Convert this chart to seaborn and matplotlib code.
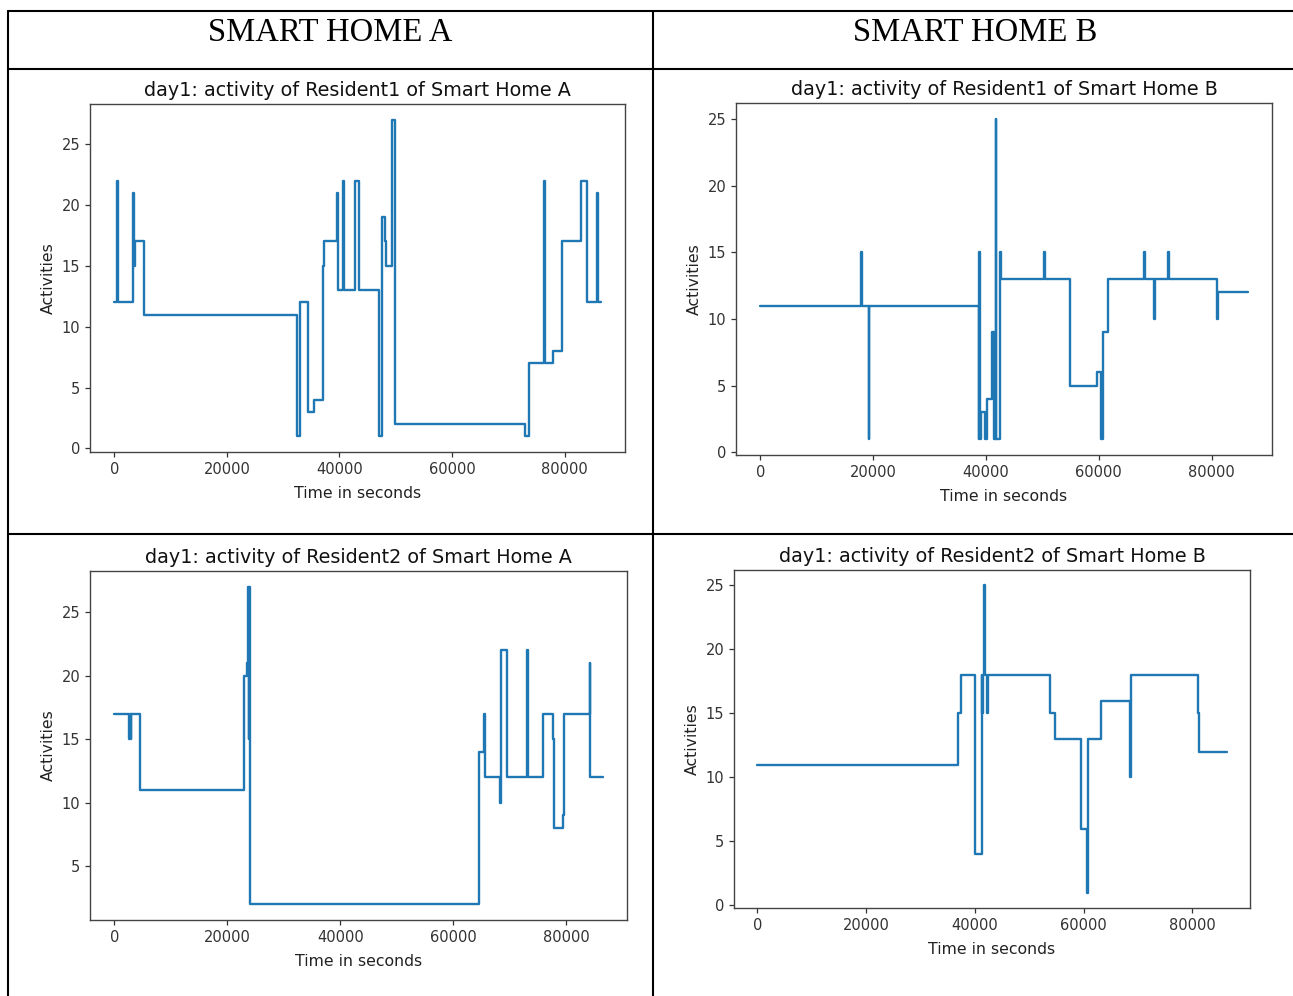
import matplotlib
matplotlib.use("Agg")
import matplotlib.pyplot as plt
import seaborn as sns
import pandas as pd
from matplotlib.lines import Line2D

sns.set_style("ticks")
plt.rcParams['font.family'] = ['DejaVu Sans']
plt.rcParams['axes.linewidth'] = 1.0
plt.rcParams['axes.edgecolor'] = '#444444'

# ---------------- data (change points, step values) ----------------
header_labels = ["SMART HOME A", "SMART HOME B"]
titles = ["day1: activity of Resident1 of Smart Home A",
          "day1: activity of Resident1 of Smart Home B",
          "day1: activity of Resident2 of Smart Home A",
          "day1: activity of Resident2 of Smart Home B"]

a1_time = [0, 450, 650, 3250, 3450, 3600, 5340, 32450, 32900, 34350, 35400, 37100,
           37300, 39500, 39800, 40550, 40750, 42750, 43450, 47100, 47500, 48000,
           48300, 49400, 49800, 73000, 73750, 76300, 76500, 77900, 79550, 82950,
           83950, 85800, 85950, 86400]
a1_act = [12, 22, 12, 21, 15, 17, 11, 1, 12, 3, 4, 15, 17, 21, 13, 22, 13, 22, 13,
          1, 19, 17, 15, 27, 2, 1, 7, 22, 7, 8, 17, 22, 12, 21, 12, 12]

b1_time = [0, 17900, 18050, 19200, 19350, 38700, 38850, 39000, 39150, 39900, 40100,
           41050, 41350, 41700, 41850, 42450, 42750, 50300, 50450, 54900, 59700,
           60450, 60800, 61650, 68000, 68150, 69850, 70000, 72350, 72500, 80900,
           81150, 86400]
b1_act = [11, 15, 11, 1, 11, 1, 15, 1, 3, 1, 4, 9, 1, 25, 1, 15, 13, 15, 13, 5, 6,
          1, 9, 13, 15, 13, 10, 13, 15, 13, 10, 12, 12]

a2_time = [0, 2600, 2750, 2850, 2950, 4600, 22950, 23400, 23700, 23800, 23850, 23950,
           64500, 65350, 65500, 68300, 68400, 69400, 73100, 73250, 75800, 77650,
           77800, 79450, 79600, 84100, 84250, 86400]
a2_act = [17, 15, 17, 15, 17, 11, 20, 21, 27, 15, 27, 2, 14, 17, 12, 10, 22, 12, 22,
          12, 17, 15, 8, 9, 17, 21, 12, 12]

b2_time = [0, 36900, 37400, 40000, 41250, 41400, 41550, 41750, 41850, 42150, 42450,
           53900, 54800, 59600, 60550, 60850, 63250, 68500, 68600, 68700, 81100,
           81200, 86300]
b2_act = [11, 15, 18, 4, 18, 15, 18, 25, 18, 15, 18, 15, 13, 6, 1, 13, 16, 15, 10,
          18, 15, 12, 12]

W, H = 1293, 996
fig = plt.figure(figsize=(W / 100, H / 100), dpi=100)


def rect(left, top, right, bottom):
    return [left / W, 1 - bottom / H, (right - left) / W, (bottom - top) / H]


def panel(r, t, v, title):
    ax = fig.add_axes(r)
    df = pd.DataFrame({"Time in seconds": t, "Activities": v})
    sns.lineplot(data=df, x="Time in seconds", y="Activities", ax=ax,
                 drawstyle="steps-post", estimator=None, color="#1f77b4",
                 linewidth=1.7)
    ax.set_title(title, fontsize=13.8, color="#111111", pad=6)
    ax.set_xlabel("Time in seconds", fontsize=11.3, color="#222222", labelpad=7)
    ax.set_ylabel("Activities", fontsize=11.3, color="#222222")
    ax.tick_params(labelsize=10.5, length=3.5, width=0.9, colors="#333333")
    for s in ax.spines.values():
        s.set_visible(True)
    return ax


panel(rect(90, 104, 625, 452), a1_time, a1_act, titles[0])
panel(rect(736, 103, 1272, 455), b1_time, b1_act, titles[1])
panel(rect(90, 571, 627, 920), a2_time, a2_act, titles[2])
panel(rect(734, 570, 1250, 908), b2_time, b2_act, titles[3])

# table grid
def fline(x0, y0, x1, y1):
    fig.add_artist(Line2D([x0 / W, x1 / W], [1 - y0 / H, 1 - y1 / H],
                          color="black", linewidth=1.5))

fline(8, 11, W, 11)
fline(8, 69, W, 69)
fline(8, 534, W, 534)
fline(8, 11, 8, H)
fline(653, 11, 653, H)

fig.text(330 / W, 1 - 33 / H, header_labels[0], family="Liberation Serif",
         fontsize=23.5, ha="center", va="center", color="black")
fig.text(975 / W, 1 - 33 / H, header_labels[1], family="Liberation Serif",
         fontsize=23.5, ha="center", va="center", color="black")

fig.savefig("out.png", dpi=100)
